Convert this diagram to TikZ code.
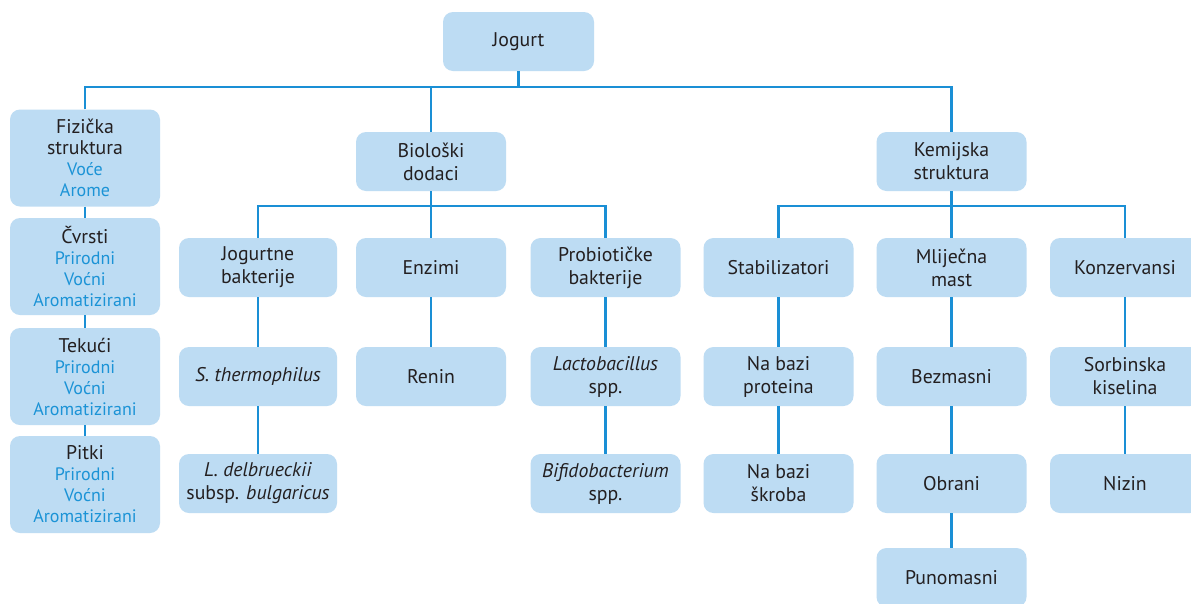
\documentclass[tikz,border=0pt]{standalone}
\usepackage{fontspec}
\setmainfont{PT Sans}
\definecolor{boxfill}{HTML}{BDDCF3}
\definecolor{linkblue}{HTML}{1A8FD5}
\definecolor{subblue}{HTML}{1B93D6}
\definecolor{ink}{HTML}{231F20}
\newcommand{\variant}[1]{{\fontsize{18}{21}\selectfont\color{subblue}#1}}
\begin{document}
\begin{tikzpicture}[x=1pt,y=-1pt,
  box/.style={fill=boxfill, rounded corners=10pt, minimum width=150pt, minimum height=59pt,
    align=center, inner sep=2pt, text=ink, font=\fontsize{19.8}{23}\selectfont},
  sidebox/.style={box, minimum height=97pt, font=\fontsize{19.8}{21}\selectfont},
  link/.style={draw=linkblue, line width=2.3pt}]
\useasboundingbox (0,0) rectangle (1191,603);
\fill[white] (0,0) rectangle (1191,603);

\coordinate (bus) at (0,87);
\coordinate (busL) at (0,206);

% root and first level
\node[box, minimum width=151pt] (jog) at (518.5,41.5) {Jogurt};
\node[box] (bio) at (431,161.5) {Biološki\\dodaci};
\node[box] (kem) at (951.5,161.5) {Kemijska\\struktura};

% left column
\node[sidebox] (fiz) at (85,158) {Fizička\\struktura\\\variant{Voće}\\\variant{Arome}};
\node[sidebox] (cvr) at (85,266.5) {Čvrsti\\\variant{Prirodni}\\\variant{Voćni}\\\variant{Aromatizirani}};
\node[sidebox] (tek) at (85,376.5) {Tekući\\\variant{Prirodni}\\\variant{Voćni}\\\variant{Aromatizirani}};
\node[sidebox] (pit) at (85,484.5) {Pitki\\\variant{Prirodni}\\\variant{Voćni}\\\variant{Aromatizirani}};

% second level
\node[box, minimum width=158pt] (jb) at (258,267.5) {Jogurtne\\bakterije};
\node[box] (enz) at (431,267.5) {Enzimi};
\node[box] (pro) at (605.5,267.5) {Probiotičke\\bakterije};
\node[box] (sta) at (778.5,267.5) {Stabilizatori};
\node[box] (mm) at (951.5,267.5) {Mliječna\\mast};
\node[box] (kon) at (1125,267.5) {Konzervansi};

% third level
\node[box, minimum width=158pt] (st) at (258,376.5) {\itshape S. thermophilus};
\node[box] (ren) at (431,376.5) {Renin};
\node[box] (lac) at (605.5,376.5) {\textit{Lactobacillus}\\spp.};
\node[box] (nbp) at (778.5,376.5) {Na bazi\\proteina};
\node[box] (bez) at (951.5,376.5) {Bezmasni};
\node[box] (sor) at (1125,376.5) {Sorbinska\\kiselina};

% fourth level
\node[box, minimum width=158pt] (ld) at (258,483.5) {\textit{L. delbrueckii}\\subsp. \textit{bulgaricus}};
\node[box] (bif) at (605.5,483.5) {\textit{Bifidobacterium}\\spp.};
\node[box] (nbs) at (778.5,483.5) {Na bazi\\škroba};
\node[box] (obr) at (951.5,483.5) {Obrani};
\node[box] (niz) at (1125,483.5) {Nizin};

% fifth level
\node[box] (pun) at (951.5,577.5) {Punomasni};

% top bus
\draw[link] (jog.south) -- (jog.south |- bus);
\draw[link] (fiz.north) |- (kem.north |- bus) -- (kem.north);
\draw[link] (bio.north) -- (bio.north |- bus);

% left column chain
\draw[link] (fiz) -- (cvr);
\draw[link] (cvr) -- (tek);
\draw[link] (tek) -- (pit);

% biological branch
\draw[link] (bio.south) -- (bio.south |- busL);
\draw[link] (jb.north) |- (pro.north |- busL) -- (pro.north);
\draw[link] (enz.north) -- (enz.north |- busL);

% chemical branch
\draw[link] (kem.south) -- (kem.south |- busL);
\draw[link] (sta.north) |- (kon.north |- busL) -- (kon.north);
\draw[link] (mm.north) -- (mm.north |- busL);

% columns
\draw[link] (jb) -- (st);
\draw[link] (st) -- (ld);
\draw[link] (enz) -- (ren);
\draw[link] (pro) -- (lac);
\draw[link] (lac) -- (bif);
\draw[link] (sta) -- (nbp);
\draw[link] (nbp) -- (nbs);
\draw[link] (mm) -- (bez);
\draw[link] (bez) -- (obr);
\draw[link] (obr) -- (pun);
\draw[link] (kon) -- (sor);
\draw[link] (sor) -- (niz);
\end{tikzpicture}
\end{document}
